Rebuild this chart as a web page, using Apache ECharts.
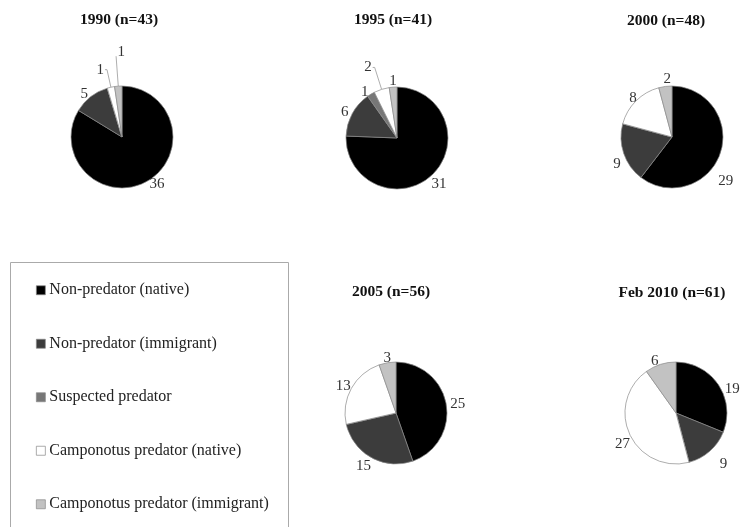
<!DOCTYPE html>
<html>
<head>
<meta charset="utf-8">
<style>
  html, body { margin: 0; padding: 0; background: #fff; }
  #chart { width: 741px; height: 527px; }
</style>
<script src="https://cdn.jsdelivr.net/npm/echarts@6/dist/echarts.min.js"></script>
</head>
<body>
<div id="chart"></div>
<script>
// Ant species groups, in slice order (clockwise from 12 o'clock)
const categories = [
  'Non-predator (native)',
  'Non-predator (immigrant)',
  'Suspected predator',
  'Camponotus predator (native)',
  'Camponotus predator (immigrant)'
];
const groupColors = ['#000000', '#3c3c3c', '#777777', '#ffffff', '#c2c2c2'];

// Survey years and species counts per group
const surveyTitles = ['1990 (n=43)', '1995 (n=41)', '2000 (n=48)', '2005 (n=56)', 'Feb 2010 (n=61)'];
const counts1990 = [36, 5, 0, 1, 1];
const counts1995 = [31, 6, 1, 2, 1];
const counts2000 = [29, 9, 0, 8, 2];
const counts2005 = [25, 15, 0, 13, 3];
const counts2010 = [19, 9, 0, 27, 6];
const allCounts = [counts1990, counts1995, counts2000, counts2005, counts2010];

// Layout of each pie (centre in px) and its heading
const pieCenters = [[122, 137], [397, 138], [672, 137], [396, 413], [676, 413]];
const titleCenters = [119, 393, 666, 391, 672];
const titleTops = [7, 7, 8, 279, 280];
const pieRadius = 51;

// Leader lines for the thin slices of the early surveys: [surveyIndex, groupIndex, length, length2]
const leaderLines = [[0, 3, 18, 2], [0, 4, 30, 0], [1, 3, 23, 2]];

// Small hand placements of value labels: [surveyIndex, groupIndex, dx, dy]
const labelNudges = [
  [0, 4, 10, -4],
  [1, 0, -4, 7], [1, 4, 5, -3],
  [2, 0, -6, 27], [2, 1, 1, 10], [2, 3, 4, -1], [2, 4, 7, -4],
  [3, 1, 2, 6], [3, 3, 3, -1], [3, 4, 5, -2],
  [4, 0, 3, 6], [4, 1, 7, 11], [4, 3, 4, 8]
];

const serif = '"Liberation Serif", "DejaVu Serif", serif';

function buildData(si) {
  return allCounts[si].map((v, gi) => {
    const item = {
      name: categories[gi],
      value: v,
      itemStyle: { color: groupColors[gi] }
    };
    if (v === 0) {
      item.label = { show: false };
      item.labelLine = { show: false };
    }
    const ll = leaderLines.find(l => l[0] === si && l[1] === gi);
    if (ll) {
      item.labelLine = { show: true, length: ll[2], length2: ll[3], lineStyle: { color: '#999', width: 0.8 } };
    }
    return item;
  });
}

const series = surveyTitles.map((t, si) => ({
  type: 'pie',
  name: t,
  center: pieCenters[si],
  radius: pieRadius,
  startAngle: 90,
  clockwise: true,
  avoidLabelOverlap: false,
  animation: false,
  itemStyle: { borderColor: '#8a8a8a', borderWidth: 0.7 },
  emphasis: { disabled: true },
  label: {
    show: true,
    position: 'outside',
    formatter: '{c}',
    fontFamily: serif,
    fontSize: 15,
    color: '#333',
    distanceToLabelLine: 1
  },
  labelLine: { show: false, length: 3, length2: 0 },
  labelLayout: function (params) {
    const n = labelNudges.find(l => l[0] === si && l[1] === params.dataIndex);
    return n ? { dx: n[2], dy: n[3] } : {};
  },
  data: buildData(si)
}));

const titles = surveyTitles.map((t, si) => ({
  text: t,
  left: titleCenters[si] - 5,
  top: titleTops[si],
  textAlign: 'center',
  textStyle: { fontFamily: serif, fontSize: 15.5, fontWeight: 'bold', color: '#111' }
}));

const chart = echarts.init(document.getElementById('chart'), null, { renderer: 'canvas' });
chart.setOption({
  backgroundColor: '#fff',
  title: titles,
  legend: {
    orient: 'vertical',
    left: 36,
    top: 282,
    padding: 0,
    icon: 'rect',
    itemWidth: 9,
    itemHeight: 9,
    itemGap: 37,
    selectedMode: false,
    data: categories,
    itemStyle: { borderColor: '#888', borderWidth: 0.7 },
    textStyle: { fontFamily: serif, fontSize: 16, color: '#222', lineHeight: 16.5, padding: [0, 0, 0, -1] }
  },
  graphic: [{
    type: 'rect',
    shape: { x: 10.5, y: 262.5, width: 278, height: 290 },
    style: { fill: 'none', stroke: '#aaa', lineWidth: 1 },
    silent: true
  }],
  series: series
});
</script>
</body>
</html>
